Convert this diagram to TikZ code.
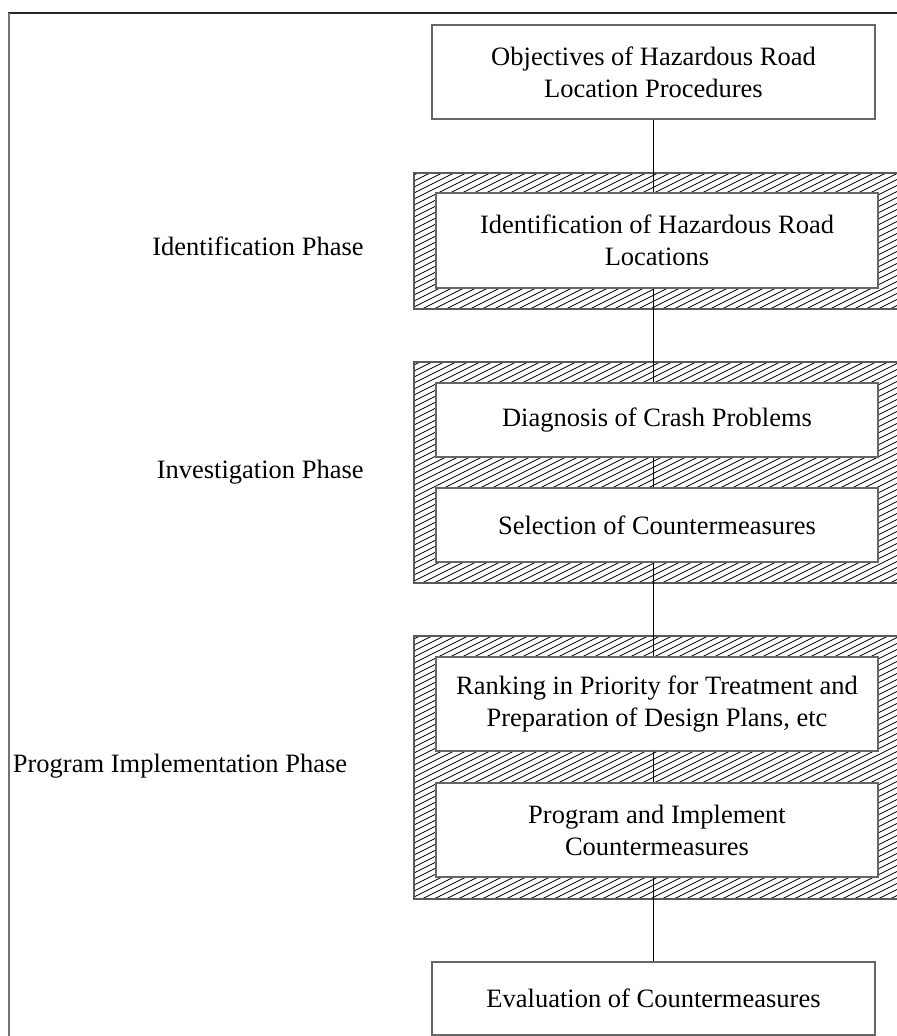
\documentclass[tikz,border=0pt]{standalone}
\usepackage{fontspec}
\setmainfont{Liberation Serif}
\usepackage{tikz}
\usetikzlibrary{positioning,calc}

\tikzset{
  stagebox/.style={draw=black!60, line width=0.6pt, fill=white, align=center,
    inner sep=0pt, minimum width=221pt, minimum height=47pt,
    font=\fontsize{13.25}{16}\selectfont},
  phaselabel/.style={inner sep=0pt, font=\fontsize{13.25}{16}\selectfont},
  hatch/.style={black, line width=0.4pt},
  bandedge/.style={draw=black!65, line width=0.6pt},
  link/.style={black, line width=0.5pt},
  framerule/.style={line width=0.7pt}
}

% hatched band behind a phase
\newcommand{\hatchband}[2]{%
  \begin{scope}
    \clip (414,#1) rectangle (897,#2);
    \foreach \hx in {-130,-118,...,897}
      \draw[hatch] (\hx,#2) -- ++(600,-300);
  \end{scope}
  \draw[bandedge] (897,#1) -- (414,#1) -- (414,#2) -- (897,#2);
}

\begin{document}
\begin{tikzpicture}[x=0.5pt, y=-0.5pt]
  \useasboundingbox (0,0) rectangle (897,1036);

  % Frame
  \draw[framerule, black!85] (8,13) -- (897,13);
  \draw[framerule, black!55] (9,13) -- (9,1036);

  % Phase bands
  \hatchband{173}{309}
  \hatchband{362}{583}
  \hatchband{636}{899}

  % Stages
  \node[stagebox, minimum width=221.5pt] (objectives) at (653.5,72)
    {Objectives of Hazardous Road\\Location Procedures};
  \node[stagebox, minimum height=47.5pt] (identify) at (657,240.5)
    {Identification of Hazardous Road\\Locations};
  \node[stagebox, minimum height=37pt] (diagnose) at (657,420)
    {Diagnosis of Crash Problems};
  \node[stagebox, minimum height=37pt] (select) at (657,525)
    {Selection of Countermeasures};
  \node[stagebox] (rank) at (657,704)
    {Ranking in Priority for Treatment and\\Preparation of Design Plans, etc};
  \node[stagebox] (implement) at (657,830)
    {Program and Implement\\Countermeasures};
  \node[stagebox, minimum width=221.5pt, minimum height=36.5pt] (evaluate) at (653.5,998.5)
    {Evaluation of Countermeasures};

  % Links
  \draw[link] (objectives.south) -- (objectives.south |- identify.north);
  \draw[link] (objectives.south |- identify.south) -- (objectives.south |- diagnose.north);
  \draw[link] (objectives.south |- diagnose.south) -- (objectives.south |- select.north);
  \draw[link] (objectives.south |- select.south) -- (objectives.south |- rank.north);
  \draw[link] (objectives.south |- rank.south) -- (objectives.south |- implement.north);
  \draw[link] (evaluate.north |- implement.south) -- (evaluate.north);

  % Phase labels
  \node[phaselabel, anchor=east] (idphase) at (364,246) {Identification Phase};
  \node[phaselabel, anchor=east] (invphase) at (364,472) {Investigation Phase};
  \node[phaselabel] (implphase) at (180,766) {Program Implementation Phase};

\end{tikzpicture}
\end{document}
